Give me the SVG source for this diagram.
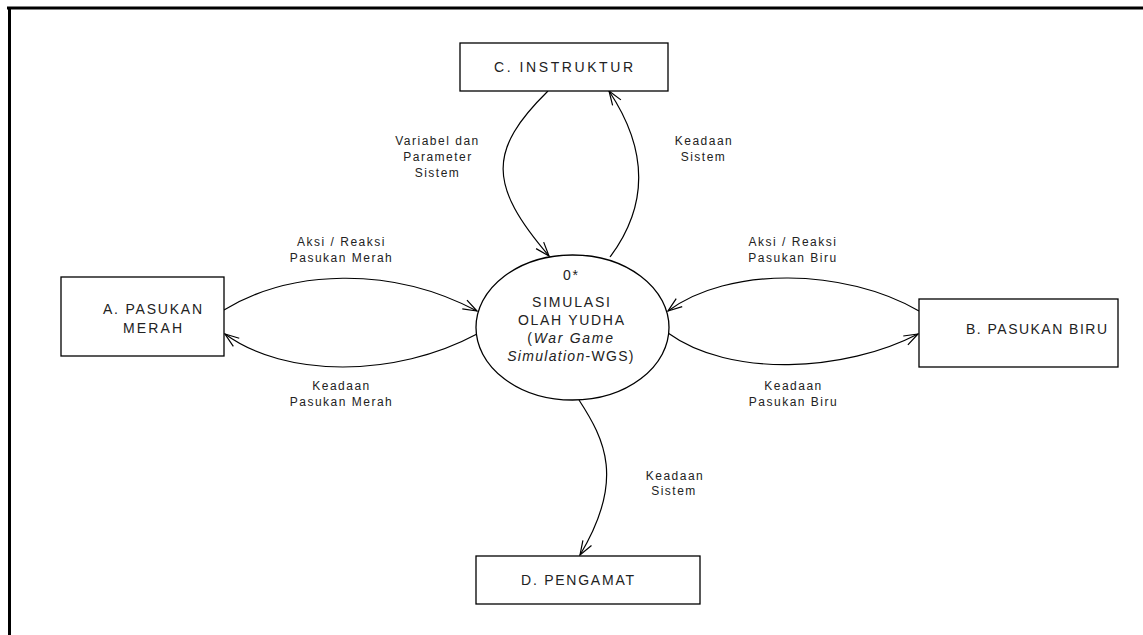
<svg xmlns="http://www.w3.org/2000/svg" width="1143" height="635" viewBox="0 0 1143 635">
<style>
.box{fill:#fff;stroke:#000;stroke-width:1.3}
.bt{font-family:"Liberation Sans",Arial,sans-serif;font-size:14px;fill:#222}
.lb{font-family:"Liberation Sans",Arial,sans-serif;font-size:12px;fill:#222;letter-spacing:1.5px;text-anchor:middle}
.fl{fill:none;stroke:#000;stroke-width:1.2;marker-end:url(#ah)}
</style>
<defs>
<marker id="ah" markerUnits="userSpaceOnUse" viewBox="-15 -8 17 16" refX="0" refY="0" markerWidth="17" markerHeight="16" orient="auto" overflow="visible">
<path d="M-14,-5 L0,0 L-14,5" fill="none" stroke="#000" stroke-width="1.2"/>
</marker>
</defs>
<rect width="1143" height="635" fill="#fff"/>
<g id="frame">
<line x1="7" y1="8" x2="1143" y2="8" stroke="#000" stroke-width="3"/>
<line x1="9.5" y1="8" x2="9.5" y2="635" stroke="#000" stroke-width="3"/>
</g>
<g id="connectors">
<path class="fl" d="M548,91 C488,150 488,185 549,256"/>
<path class="fl" d="M610,257 C660,190 635,130 609,91"/>
<path class="fl" d="M224,310 C290,270 390,265 477,311"/>
<path class="fl" d="M477,334 C395,378 285,378 225,334"/>
<path class="fl" d="M919,311 C845,268 728,266 668,311"/>
<path class="fl" d="M668,333 C730,378 845,372 918,334"/>
<path class="fl" d="M579,400 C605,440 625,480 580,555"/>
<text class="lb" x="437.5" y="145">Variabel dan</text>
<text class="lb" x="438" y="161">Parameter</text>
<text class="lb" x="437.5" y="177">Sistem</text>
<text class="lb" x="704" y="145">Keadaan</text>
<text class="lb" x="703.5" y="161">Sistem</text>
<text class="lb" x="341.5" y="246">Aksi / Reaksi</text>
<text class="lb" x="341.5" y="262">Pasukan Merah</text>
<text class="lb" x="341.5" y="390">Keadaan</text>
<text class="lb" x="341.5" y="406">Pasukan Merah</text>
<text class="lb" x="793" y="246">Aksi / Reaksi</text>
<text class="lb" x="793" y="262">Pasukan Biru</text>
<text class="lb" x="793.5" y="390">Keadaan</text>
<text class="lb" x="793.5" y="406">Pasukan Biru</text>
<text class="lb" x="675" y="480">Keadaan</text>
<text class="lb" x="674" y="495">Sistem</text>
</g>
<g id="node-c">
<rect class="box" x="460" y="43" width="208" height="48"/>
<text class="bt" x="494" y="72" textLength="139" lengthAdjust="spacing">C. INSTRUKTUR</text>
</g>
<g id="node-a">
<rect class="box" x="61" y="277" width="163" height="79"/>
<text class="bt" x="103" y="314" textLength="99" lengthAdjust="spacing">A. PASUKAN</text>
<text class="bt" x="123" y="333" textLength="59" lengthAdjust="spacing">MERAH</text>
</g>
<g id="node-b">
<rect class="box" x="919" y="299" width="199" height="68"/>
<text class="bt" x="966" y="334" textLength="141" lengthAdjust="spacing">B. PASUKAN BIRU</text>
</g>
<g id="node-d">
<rect class="box" x="476" y="556" width="224" height="48"/>
<text class="bt" x="521" y="585" textLength="113" lengthAdjust="spacing">D. PENGAMAT</text>
</g>
<g id="node-0">
<ellipse class="box" cx="572.5" cy="327.5" rx="96.5" ry="72.5"/>
<text class="bt" x="563" y="280" textLength="15" lengthAdjust="spacing">0*</text>
<text class="bt" x="532" y="307" textLength="78" lengthAdjust="spacing">SIMULASI</text>
<text class="bt" x="518" y="325" textLength="106" lengthAdjust="spacing">OLAH YUDHA</text>
<text class="bt" x="571" y="343" text-anchor="middle" letter-spacing="1.7">(<tspan font-style="italic">War Game</tspan></text>
<text class="bt" x="571" y="361" text-anchor="middle" letter-spacing="1.3"><tspan font-style="italic">Simulation</tspan>-WGS)</text>
</g>
</svg>
